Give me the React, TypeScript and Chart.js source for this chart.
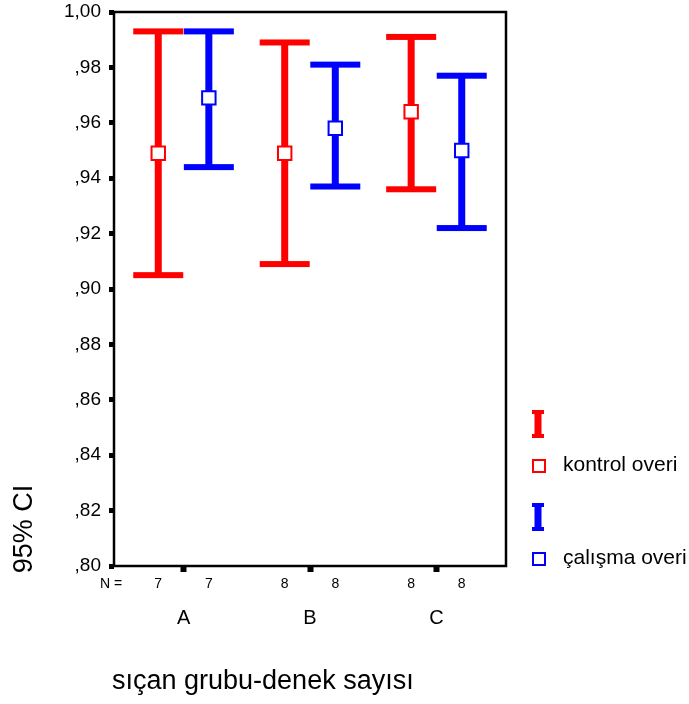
import React, { useEffect, useRef } from 'react';
import { Chart, registerables } from 'chart.js';

Chart.register(...registerables);

const categories = ['A', 'B', 'C'];
const seriesNames = ['kontrol overi', 'çalışma overi'];
const seriesColors = ['#ff0000', '#0000ff'];
const seriesOffsets = [-0.2, 0.2];

const kontrolMean = [0.949, 0.949, 0.964];
const kontrolLow = [0.905, 0.909, 0.936];
const kontrolHigh = [0.993, 0.989, 0.991];
const kontrolN = [7, 8, 8];

const calismaMean = [0.969, 0.958, 0.950];
const calismaLow = [0.944, 0.937, 0.922];
const calismaHigh = [0.993, 0.981, 0.977];
const calismaN = [7, 8, 8];

const yTickValues = [0.8, 0.82, 0.84, 0.86, 0.88, 0.9, 0.92, 0.94, 0.96, 0.98, 1.0];
const xTitle = 'sıçan grubu-denek sayısı';
const yTitle = '95% CI';
const nLabel = 'N =';

const FONT = "'Liberation Sans', Arial, sans-serif";

const means = [kontrolMean, calismaMean];
const lows = [kontrolLow, calismaLow];
const highs = [kontrolHigh, calismaHigh];
const ns = [kontrolN, calismaN];

const fmtY = (v: number) => {
  const s = v.toFixed(2).replace('.', ',');
  return s.startsWith('0') ? s.slice(1) : s;
};

const zeroPad = (scale: any) => {
  scale.paddingTop = 0;
  scale.paddingBottom = 0;
  scale.paddingLeft = 0;
  scale.paddingRight = 0;
};

const customPlugin = {
  id: 'spssErrorBars',
  beforeDatasetsDraw(chart: any) {
    const { ctx, scales } = chart;
    const xs = scales.x;
    const ys = scales.y;
    ctx.save();
    chart.data.datasets.forEach((ds: any) => {
      ctx.fillStyle = ds.borderColor;
      ds.data.forEach((pt: any, j: number) => {
        const x = xs.getPixelForValue(pt.x);
        const yHi = ys.getPixelForValue(ds.errHigh[j]);
        const yLo = ys.getPixelForValue(ds.errLow[j]);
        ctx.fillRect(x - 3.5, yHi, 7, yLo - yHi);
        ctx.fillRect(x - 25, yHi - 3, 50, 6);
        ctx.fillRect(x - 25, yLo - 3, 50, 6);
      });
    });
    ctx.restore();
  },
  afterDraw(chart: any) {
    const { ctx, chartArea, scales } = chart;
    const xs = scales.x;
    ctx.save();
    // frame
    ctx.strokeStyle = '#000';
    ctx.lineWidth = 2.5;
    ctx.strokeRect(chartArea.left, chartArea.top, chartArea.right - chartArea.left, chartArea.bottom - chartArea.top);

    // N row
    ctx.fillStyle = '#000';
    ctx.font = `14px ${FONT}`;
    ctx.textBaseline = 'middle';
    ctx.textAlign = 'left';
    ctx.fillText(nLabel, 100, 584);
    ctx.textAlign = 'center';
    chart.data.datasets.forEach((ds: any) => {
      ds.data.forEach((pt: any, j: number) => {
        ctx.fillText(String(ds.nValues[j]), xs.getPixelForValue(pt.x), 584);
      });
    });

    // x title
    ctx.font = `27px ${FONT}`;
    ctx.textAlign = 'left';
    ctx.textBaseline = 'middle';
    ctx.fillText(xTitle, 112, 682);

    // y title
    ctx.save();
    ctx.translate(25, 529);
    ctx.rotate(-Math.PI / 2);
    ctx.textAlign = 'center';
    ctx.fillText(yTitle, 0, 0);
    ctx.restore();

    // legend
    chart.data.datasets.forEach((ds: any, i: number) => {
      const y0 = 410 + i * 93;
      ctx.fillStyle = ds.borderColor;
      ctx.fillRect(532, y0, 12, 4);
      ctx.fillRect(534.5, y0, 7, 28);
      ctx.fillRect(532, y0 + 24, 12, 4);
      ctx.strokeStyle = ds.borderColor;
      ctx.lineWidth = 2;
      ctx.fillStyle = '#fff';
      ctx.fillRect(533, y0 + 50, 12, 12);
      ctx.strokeRect(533, y0 + 50, 12, 12);
      ctx.fillStyle = '#000';
      ctx.font = `21px ${FONT}`;
      ctx.textAlign = 'left';
      ctx.textBaseline = 'middle';
      ctx.fillText(ds.label, 563, y0 + 55);
    });
    ctx.restore();
  },
};

export default function App() {
  const canvasRef = useRef<HTMLCanvasElement | null>(null);

  useEffect(() => {
    document.body.style.margin = '0';
    const canvas = canvasRef.current;
    if (!canvas) return;

    const datasets = seriesNames.map((name, i) => ({
      label: name,
      data: categories.map((_, j) => ({ x: j + 1 + seriesOffsets[i], y: means[i][j] })),
      errLow: lows[i],
      errHigh: highs[i],
      nValues: ns[i],
      borderColor: seriesColors[i],
      backgroundColor: '#ffffff',
      pointStyle: 'rect',
      pointRadius: 9.5,
      pointHoverRadius: 9.5,
      pointBorderWidth: 2,
      showLine: false,
    }));

    const chart = new Chart(canvas, {
      type: 'scatter',
      data: { datasets } as any,
      options: {
        responsive: false,
        animation: false,
        events: [],
        layout: { padding: { top: 12, right: 183, left: 0, bottom: 0 } },
        plugins: {
          legend: { display: false },
          tooltip: { enabled: false },
        },
        scales: {
          x: {
            type: 'linear',
            min: 0.45,
            max: 3.55,
            afterBuildTicks: (scale: any) => {
              scale.ticks = categories.map((_, j) => ({ value: j + 1 }));
            },
            afterFit: (scale: any) => {
              scale.height = 138;
              zeroPad(scale);
            },
            ticks: {
              callback: (v: any) => categories[Math.round(Number(v)) - 1] ?? '',
              color: '#000',
              font: { family: FONT, size: 20 },
              padding: 34,
              maxRotation: 0,
              autoSkip: false,
            },
            grid: {
              drawOnChartArea: false,
              drawTicks: true,
              tickLength: 6,
              tickWidth: 6,
              tickColor: '#000',
            },
            border: { display: false },
          },
          y: {
            type: 'linear',
            min: 0.8,
            max: 1.0,
            afterBuildTicks: (scale: any) => {
              scale.ticks = yTickValues.map((v) => ({ value: v }));
            },
            afterFit: (scale: any) => {
              scale.width = 114;
              zeroPad(scale);
            },
            ticks: {
              callback: (v: any) => fmtY(Number(v)),
              color: '#000',
              font: { family: FONT, size: 19 },
              padding: 8,
              autoSkip: false,
            },
            grid: {
              drawOnChartArea: false,
              drawTicks: true,
              tickLength: 5,
              tickWidth: 5,
              tickColor: '#000',
            },
            border: { display: false },
          },
        },
      } as any,
      plugins: [customPlugin],
    });

    return () => chart.destroy();
  }, []);

  return (
    <div style={{ width: 689, height: 704, background: '#fff' }}>
      <canvas ref={canvasRef} width={689} height={704} style={{ display: 'block' }} />
    </div>
  );
}
